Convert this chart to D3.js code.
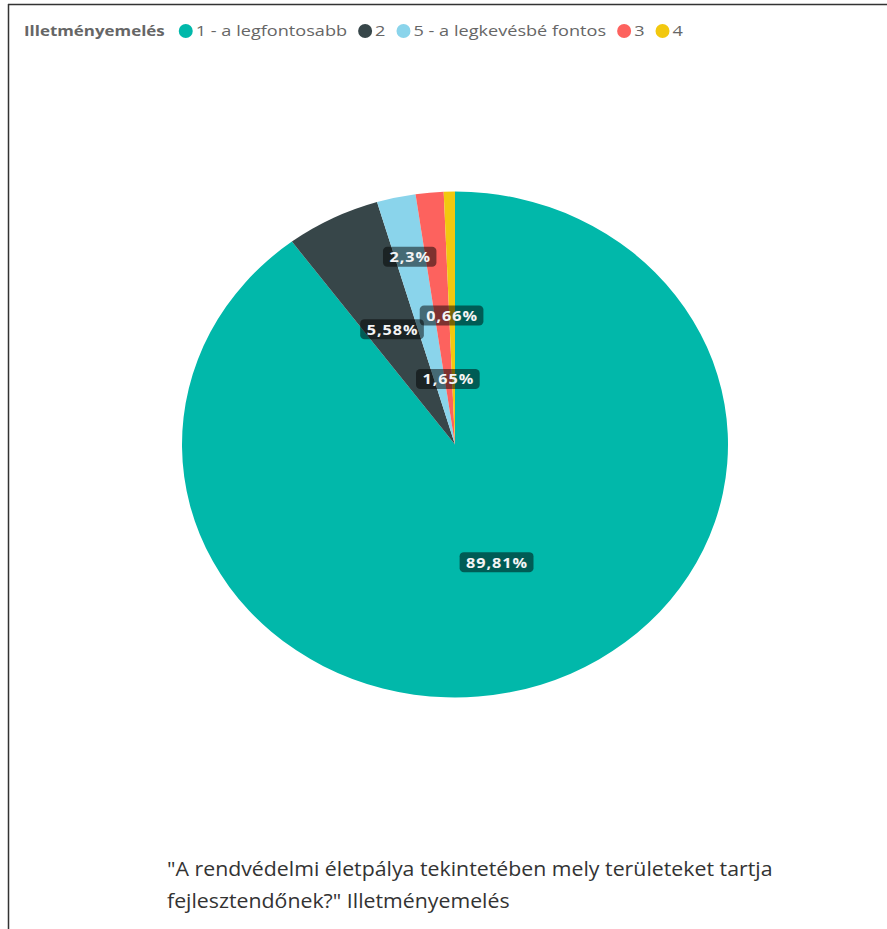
<!DOCTYPE html>
<html><head><meta charset="utf-8">
<script src="https://cdn.jsdelivr.net/npm/d3@7/dist/d3.min.js"></script>
<style>
html,body{margin:0;padding:0;background:#fff;}
svg{display:block;}
</style></head>
<body>
<svg id="chart" width="887" height="929"></svg>
<script>
// ---- data ----
const categories = ["1 - a legfontosabb", "2", "5 - a legkevésbé fontos", "3", "4"];
const values = [89.81, 5.58, 2.3, 1.65, 0.66];
const valueLabels = ["89,81%", "5,58%", "2,3%", "1,65%", "0,66%"];
const legendTitle = "Illetményemelés";
const titleLines = ["\"A rendvédelmi életpálya tekintetében mely területeket tartja", "fejlesztendőnek?\" Illetményemelés"];

// ---- style / layout ----
const colors = ["#01B8AA", "#374649", "#8AD4EB", "#FD625E", "#F2C80F"];
const labelRadiusFrac = [0.49, 0.51, 0.76, 0.26, 0.51];
const font = "'Segoe UI', 'Open Sans', 'Noto Sans', sans-serif";
const legendStretch = 1.21, titleStretch = 1.065;

const svg = d3.select("#chart");

// frame
svg.append("line").attr("x1", 8).attr("x2", 887).attr("y1", 4.5).attr("y2", 4.5)
  .attr("stroke", "#333").attr("stroke-width", 1.5);
svg.append("line").attr("x1", 8.5).attr("x2", 8.5).attr("y1", 4).attr("y2", 929)
  .attr("stroke", "#333").attr("stroke-width", 1.5);

// legend
const legend = svg.append("g").attr("transform", "translate(24,36)");
const lt = legend.append("text").text(legendTitle)
  .attr("transform", `scale(${legendStretch},1)`)
  .attr("font-family", font).attr("font-size", 14).attr("font-weight", "bold").attr("fill", "#666");
let x = lt.node().getComputedTextLength() * legendStretch + 14;
const cr = 7;
categories.forEach((c, i) => {
  legend.append("circle").attr("cx", x + cr).attr("cy", -5).attr("r", cr).attr("fill", colors[i]);
  const t = legend.append("text").text(c)
    .attr("transform", `translate(${x + 2 * cr + 3},0) scale(${legendStretch},1)`)
    .attr("font-family", font).attr("font-size", 15).attr("fill", "#666");
  x += 2 * cr + 3 + t.node().getComputedTextLength() * legendStretch + 11;
});

// pie
const cx = 455, cy = 444.5, R = 253, sx = 273 / 253;
const pie = d3.pie().sort(null).value(d => d)(values);
const arc = d3.arc().innerRadius(0).outerRadius(R);
const g = svg.append("g").attr("transform", `translate(${cx},${cy}) scale(${sx},1)`);
g.selectAll("path").data(pie).join("path")
  .attr("d", arc).attr("fill", (d, i) => colors[i]);

// labels
const lg = svg.append("g").attr("transform", `translate(${cx},${cy})`);
pie.forEach((d, i) => {
  const a = (d.startAngle + d.endAngle) / 2;
  const r = R * labelRadiusFrac[i];
  const px = Math.sin(a) * r * sx, py = -Math.cos(a) * r;
  const grp = lg.append("g").attr("transform", `translate(${px},${py}) scale(${sx},1)`);
  const rect = grp.append("rect");
  const t = grp.append("text").text(valueLabels[i])
    .attr("text-anchor", "middle").attr("dy", "0.36em")
    .attr("font-family", font).attr("font-size", 15).attr("font-weight", "bold")
    .attr("letter-spacing", 0.9)
    .attr("fill", "#f4f4f4");
  const w = t.node().getComputedTextLength() + 11;
  rect.attr("x", -w / 2 - 0.5).attr("y", -10).attr("width", w).attr("height", 20)
    .attr("rx", 4).attr("fill", "#000").attr("fill-opacity", 0.5);
});

// bottom title
titleLines.forEach((l, i) => {
  svg.append("text").text(l)
    .attr("transform", `translate(167,${876 + i * 32}) scale(${titleStretch},1)`)
    .attr("font-family", font).attr("font-size", 20).attr("fill", "#333");
});
</script>
</body></html>
